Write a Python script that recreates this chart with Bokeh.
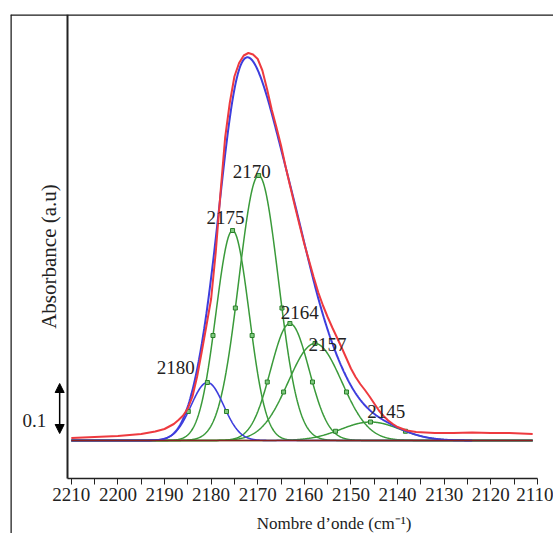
import numpy as np
from math import pi, log
from bokeh.plotting import figure
from bokeh.models import (Range1d, LinearAxis, FixedTicker, ColumnDataSource,
                          Label, Arrow, NormalHead)
from bokeh.core.properties import value
from bokeh.embed import file_html
from bokeh.resources import INLINE

# ---------------- data ----------------
# measured spectrum (red curve): wavenumber (cm-1) / absorbance (a.u.)
red_wn = [2210, 2205, 2200, 2195, 2192, 2190, 2188, 2187, 2186, 2185, 2184,
          2183, 2182, 2181, 2180, 2179, 2178, 2177, 2176, 2175, 2174, 2173,
          2172, 2171, 2170, 2169, 2168, 2167, 2166, 2165, 2164, 2163, 2162,
          2161, 2160, 2159, 2158, 2157, 2156, 2155, 2154, 2153, 2152, 2151,
          2150, 2149, 2148, 2147, 2146, 2145, 2144, 2143, 2142, 2141, 2140,
          2138, 2136, 2132, 2128, 2124, 2120, 2116, 2111]
red_abs = [0.005, 0.007, 0.009, 0.013, 0.018, 0.023, 0.033, 0.041, 0.050, 0.064, 0.088,
           0.128, 0.178, 0.230, 0.283, 0.377, 0.494, 0.605, 0.675, 0.728, 0.755, 0.770,
           0.775, 0.772, 0.763, 0.740, 0.703, 0.662, 0.627, 0.590, 0.547, 0.507, 0.468,
           0.430, 0.393, 0.360, 0.327, 0.296, 0.270, 0.247, 0.226, 0.206, 0.186, 0.165,
           0.144, 0.127, 0.113, 0.101, 0.088, 0.074, 0.060, 0.049, 0.040, 0.033, 0.027,
           0.020, 0.017, 0.015, 0.015, 0.016, 0.015, 0.015, 0.013]

# fitted components (Gaussian bands)
peak_labels = ["2180", "2175", "2170", "2164", "2157", "2145"]
comp_center = [2180.8, 2175.4, 2169.8, 2163.1, 2157.7, 2145.8]
comp_height = [0.116, 0.420, 0.530, 0.234, 0.194, 0.037]
comp_fwhm = [8.2, 8.4, 10.0, 9.7, 13.5, 15.0]

# axis ticks
tick_values = [2210, 2200, 2190, 2180, 2170, 2160, 2150, 2140, 2130, 2120, 2110]
minor_values = [2205, 2195, 2185, 2175, 2165, 2155, 2145, 2135, 2125, 2115]

# ---------------- styling / layout ----------------
SERIF = "Liberation Serif"
RED = "#ee3a3f"
BLUE = "#3d3ddd"
GREEN = "#3a9a3a"
BASE = "#8b1f1f"
TXT = "#222222"

X0, X1 = 2223.05, 2106.53
Y0, Y1 = -0.186, 0.852
AXIS_Y = -0.076
AXIS_X = 2210.9

p = figure(width=553, height=533, output_backend="svg", toolbar_location=None,
           x_range=Range1d(X0, X1), y_range=Range1d(Y0, Y1),
           x_axis_type=None, y_axis_type=None,
           min_border_left=10, min_border_top=14, min_border_right=0, min_border_bottom=0,
           outline_line_color=None, background_fill_color="white",
           border_fill_color="white")

wn = np.linspace(2210, 2111, 991)


def band(c, h, f, x):
    return h * np.exp(-4.0 * log(2.0) * (x - c) ** 2 / f ** 2)


comps = [band(c, h, f, wn) for c, h, f in zip(comp_center, comp_height, comp_fwhm)]
envelope = np.sum(comps, axis=0)

# green components
for i in range(1, len(comps)):
    p.line(wn, comps[i], line_color=GREEN, line_width=1.5)
# blue component (2180)
p.line(wn, comps[0], line_color=BLUE, line_width=1.6)

# markers: peak and half-height points of each band
mx, my = [], []
for c, h, f in zip(comp_center, comp_height, comp_fwhm):
    for xx in (c - f / 2, c, c + f / 2):
        mx.append(xx)
        my.append(band(c, h, f, xx))
p.scatter(mx, my, marker="square", size=4, line_color="#2a7f2a",
          fill_color="#7fc97f", line_width=1)

# envelope (sum of bands) and measured spectrum
env_mask = wn >= 2124
p.line(wn[env_mask], envelope[env_mask], line_color=BLUE, line_width=2)
p.line(red_wn, red_abs, line_color=RED, line_width=2)

# baseline
p.line([2210, 2111], [0, 0], line_color=BASE, line_width=1.6)

# peak labels
lab_src = ColumnDataSource(dict(
    x=[2187.6, 2176.9, 2171.3, 2161.0, 2155.0, 2142.4],
    y=[0.146, 0.446, 0.538, 0.256, 0.192, 0.058],
    t=peak_labels))
p.text(x="x", y="y", text="t", source=lab_src, text_font=value(SERIF),
       text_font_size="19px", text_align="center", text_baseline="alphabetic",
       text_color=TXT)

# scale bar (0.1 a.u.)
p.add_layout(Arrow(start=NormalHead(size=9, fill_color="black", line_color="black"),
                   end=NormalHead(size=9, fill_color="black", line_color="black"),
                   x_start=2212.5, y_start=0.014, x_end=2212.5, y_end=0.114,
                   line_width=1.5, line_color="black"))
p.add_layout(Label(x=2217.9, y=0.040, text="0.1", text_font=SERIF,
                   text_font_size="19px", text_align="center",
                   text_baseline="alphabetic", text_color=TXT))

# axis titles
p.add_layout(Label(x=2214.7, y=0.368, text="Absorbance (a.u)", angle=pi / 2,
                   text_font=SERIF, text_font_size="21px", text_align="center",
                   text_baseline="middle", text_color=TXT))
p.add_layout(Label(x=2153.6, y=-0.166, text="Nombre d\u2019onde (cm\u207b\u00b9)",
                   text_font=SERIF, text_font_size="17px", text_align="center",
                   text_baseline="alphabetic", text_color=TXT))

# x axis
xaxis = LinearAxis(fixed_location=AXIS_Y, bounds=(2110, AXIS_X),
                   ticker=FixedTicker(ticks=tick_values, minor_ticks=minor_values),
                   major_label_text_font=SERIF, major_label_text_font_size="19px",
                   major_label_text_color=TXT, axis_line_width=1.5,
                   axis_line_color="#222222", major_tick_line_color="#222222",
                   minor_tick_line_color="#222222",
                   major_tick_out=6, major_tick_in=0, minor_tick_out=6, minor_tick_in=0,
                   major_label_standoff=3)
p.add_layout(xaxis, "below")

# y axis (line only)
yaxis = LinearAxis(fixed_location=AXIS_X, bounds=(AXIS_Y, Y1),
                   ticker=FixedTicker(ticks=[]), major_label_text_font_size="0px",
                   major_tick_out=0, minor_tick_out=0, axis_line_width=2,
                   axis_line_color="#222222")
p.add_layout(yaxis, "left")

# outer frame lines (left and top)
frame_left = LinearAxis(fixed_location=X0, ticker=FixedTicker(ticks=[]),
                        major_label_text_font_size="0px", major_tick_out=0,
                        minor_tick_out=0, axis_line_width=2.5, axis_line_color="#1a1a1a")
p.add_layout(frame_left, "left")
frame_top = LinearAxis(fixed_location=Y1, ticker=FixedTicker(ticks=[]),
                       major_label_text_font_size="0px", major_tick_out=0,
                       minor_tick_out=0, axis_line_width=2.5, axis_line_color="#1a1a1a")
p.add_layout(frame_top, "above")

open("out.html", "w").write(file_html(p, INLINE))
